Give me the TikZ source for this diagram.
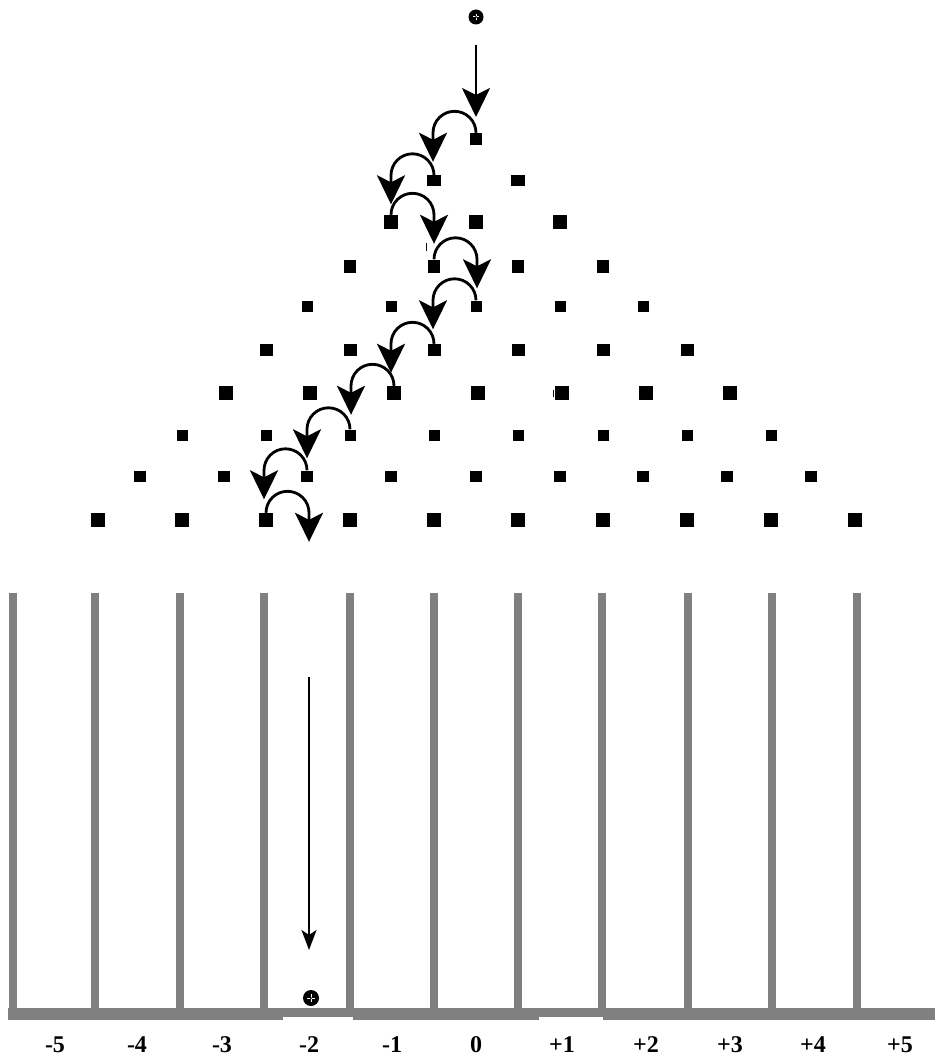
\documentclass[tikz,border=0pt]{standalone}
\usepackage{fontspec}
\setmainfont{Liberation Serif}
\usetikzlibrary{arrows.meta}
\definecolor{wallgray}{HTML}{808080}
\begin{document}
\begin{tikzpicture}[x=1pt,y=-1pt,
  peg/.style={rectangle,fill=black,inner sep=0pt},
  hop/.style={line width=2.8pt,-{Stealth[length=29pt,width=28pt,inset=7pt]}},
  drop/.style={line width=2.8pt,-{Stealth[length=29pt,width=28pt,inset=7pt]}},
  fall/.style={line width=2pt,-{Stealth[length=20pt,width=15pt,inset=5pt]}},
  wall/.style={fill=wallgray,draw=none},
  binlabel/.style={font=\fontsize{24}{26}\selectfont\bfseries,anchor=base,inner sep=0pt},
  ball/.style={circle,fill=black,inner sep=0pt,minimum size=#1,
    path picture={
      \draw[white,line width=1pt] ([xshift=-0.22*#1]path picture bounding box.center) -- ([xshift=0.22*#1]path picture bounding box.center);
      \draw[white,line width=1pt] ([yshift=-0.22*#1]path picture bounding box.center) -- ([yshift=0.22*#1]path picture bounding box.center);
      \fill[black] (path picture bounding box.center) circle[radius=1pt];
    }}
]
\useasboundingbox (0,0) rectangle (935,1059);

% pegs
\foreach \r/\y/\w/\h/\xs in {
  1/139/12/12/{476},
  2/181/14/11/{434,518},
  3/222/14/14/{391,476,560},
  4/266/12/13/{350,434,518,603},
  5/306/11/11/{307,391,476,560,643},
  6/350/13/12/{266,350,434,518,603,687},
  7/393/14/14/{226,310,394,478,562,646,730},
  8/435/11/11/{182,266,350,434,518,603,687,771},
  9/476/12/11/{140,224,307,391,476,560,643,727,811},
  10/520/14/14/{98,182,266,350,434,518,603,687,771,855}}{
  \foreach \x [count=\i] in \xs {
    \node[peg,minimum width=\w pt,minimum height=\h pt] (p\r-\i) at (\x,\y) {};
  }
}

% balls
\node[ball=15pt] (balltop) at (476,17) {};
\node[ball=16pt] (ballbot) at (311,998) {};

% drop arrow from the top
\coordinate (dropstart) at (476,45);
\coordinate (dropend) at (476,117);
\draw[drop] (dropstart) -- (dropend);

% hops
\draw[hop] (p1-1.north) arc[start angle=0,end angle=180,radius=21.5pt] -- ++(0,29);
\draw[hop] (p2-1.north) arc[start angle=0,end angle=180,radius=21.5pt] -- ++(0,29);
\draw[hop] (p3-1.north) arc[start angle=180,end angle=0,radius=21.5pt] -- ++(0,29);
\draw[hop] (p4-2.north) arc[start angle=180,end angle=0,radius=21.5pt] -- ++(0,29);
\draw[hop] (p5-3.north) arc[start angle=0,end angle=180,radius=21.5pt] -- ++(0,29);
\draw[hop] (p6-3.north) arc[start angle=0,end angle=180,radius=21.5pt] -- ++(0,29);
\draw[hop] (p7-3.north) arc[start angle=0,end angle=180,radius=21.5pt] -- ++(0,29);
\draw[hop] (p8-3.north) arc[start angle=0,end angle=180,radius=21.5pt] -- ++(0,29);
\draw[hop] (p9-3.north) arc[start angle=0,end angle=180,radius=21.5pt] -- ++(0,29);
\draw[hop] (p10-3.north) arc[start angle=180,end angle=0,radius=21.5pt] -- ++(0,29);

% small marks
\draw[line width=1pt] (426,243) -- (426,251);
\draw[line width=1pt] (553,390) -- (553,397);

% walls
\foreach \x in {13,95,180,264,350,434,518,602,688,772,857}{
  \fill[wall] (\x-4,593) rectangle (\x+4,1012);
}
% floor
\fill[wall] (8,1008) rectangle (935,1020);
\fill[white] (283,1017) rectangle (353,1021);
\fill[white] (539,1017) rectangle (603,1021);

% fall arrow in bin -2
\coordinate (fallstart) at (309,677);
\coordinate (fallend) at (309,950);
\draw[fall] (fallstart) -- (fallend);

% labels
\foreach \x/\t [count=\i] in {55/-5,137/-4,222/-3,309/-2,392/-1,476/0,562/+1,646/+2,730/+3,813/+4,900/+5}{
  \node[binlabel] (lab\i) at (\x,1052) {\t};
}
\end{tikzpicture}
\end{document}
